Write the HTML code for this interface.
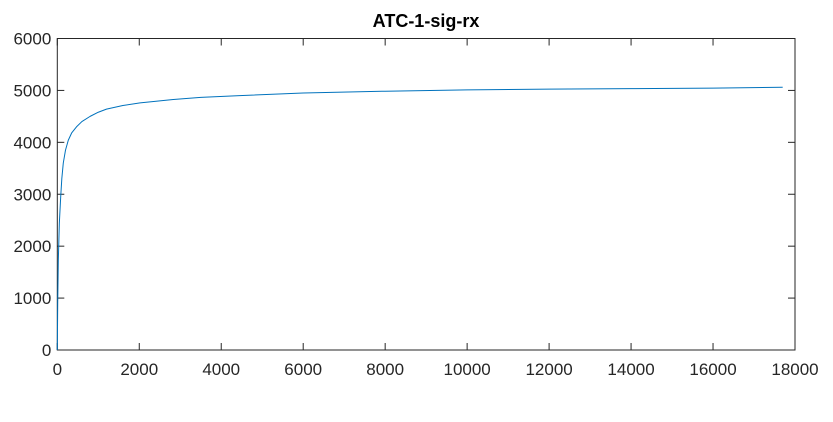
<!DOCTYPE html>
<html><head><meta charset="utf-8"><style>
body{margin:0;background:#fff;font-family:"Liberation Sans",sans-serif}
svg text{font-family:"Liberation Sans",sans-serif}
</style></head><body>
<svg id="chart" width="833" height="417">
<text x="426" y="27" text-anchor="middle" font-size="18" font-weight="bold" fill="#000">ATC-1-sig-rx</text>
<g id="axes"></g>
<path id="line" fill="none" stroke="#0072bd" stroke-width="1" stroke-linejoin="round"></path>
</svg>
<script>
const xVals=[0,10,25,50,83,110,146,200,268,350,470,600,800,1000,1200,1600,2020,2830,3500,4450,6000,8000,10000,12000,14000,16000,17700];
const yVals=[0,900,1730,2450,2950,3300,3600,3850,4040,4180,4300,4400,4500,4580,4640,4710,4760,4825,4865,4900,4950,4985,5010,5025,5035,5045,5060];
const xTicks=[0,2000,4000,6000,8000,10000,12000,14000,16000,18000];
const yTicks=[0,1000,2000,3000,4000,5000,6000];
const L=57.3,R=795,T=38.5,B=350;
const sx=v=>L+(v/18000)*(R-L);
const sy=v=>B-(v/6000)*(B-T);
const ns="http://www.w3.org/2000/svg";
const ax=document.getElementById('axes');
function mk(t,a){const e=document.createElementNS(ns,t);for(const k in a)e.setAttribute(k,a[k]);ax.appendChild(e);return e;}
const box=mk('rect',{x:L,y:T,width:R-L,height:B-T,fill:'none',stroke:'#262626','stroke-width':1});


xTicks.forEach(v=>{
 const x=sx(v);
 mk('line',{x1:x,x2:x,y1:B,y2:B-7,stroke:'#262626'});
 mk('line',{x1:x,x2:x,y1:T,y2:T+7,stroke:'#262626'});
 const t=mk('text',{x:x,y:B+25,'text-anchor':'middle','font-size':17,fill:'#262626'});
 t.textContent=v;
 
 
});
yTicks.forEach(v=>{
 const y=sy(v);
 mk('line',{x1:L,x2:L+7,y1:y,y2:y,stroke:'#262626'});
 mk('line',{x1:R,x2:R-7,y1:y,y2:y,stroke:'#262626'});
 const t=mk('text',{x:L-6,y:y+6,'text-anchor':'end','font-size':17,fill:'#262626'});
 t.textContent=v;
 
 
});
document.getElementById('line').setAttribute('d',xVals.map((x,i)=>(i?'L':'M')+sx(x).toFixed(2)+','+sy(yVals[i]).toFixed(2)).join(''));
</script>
</body></html>
